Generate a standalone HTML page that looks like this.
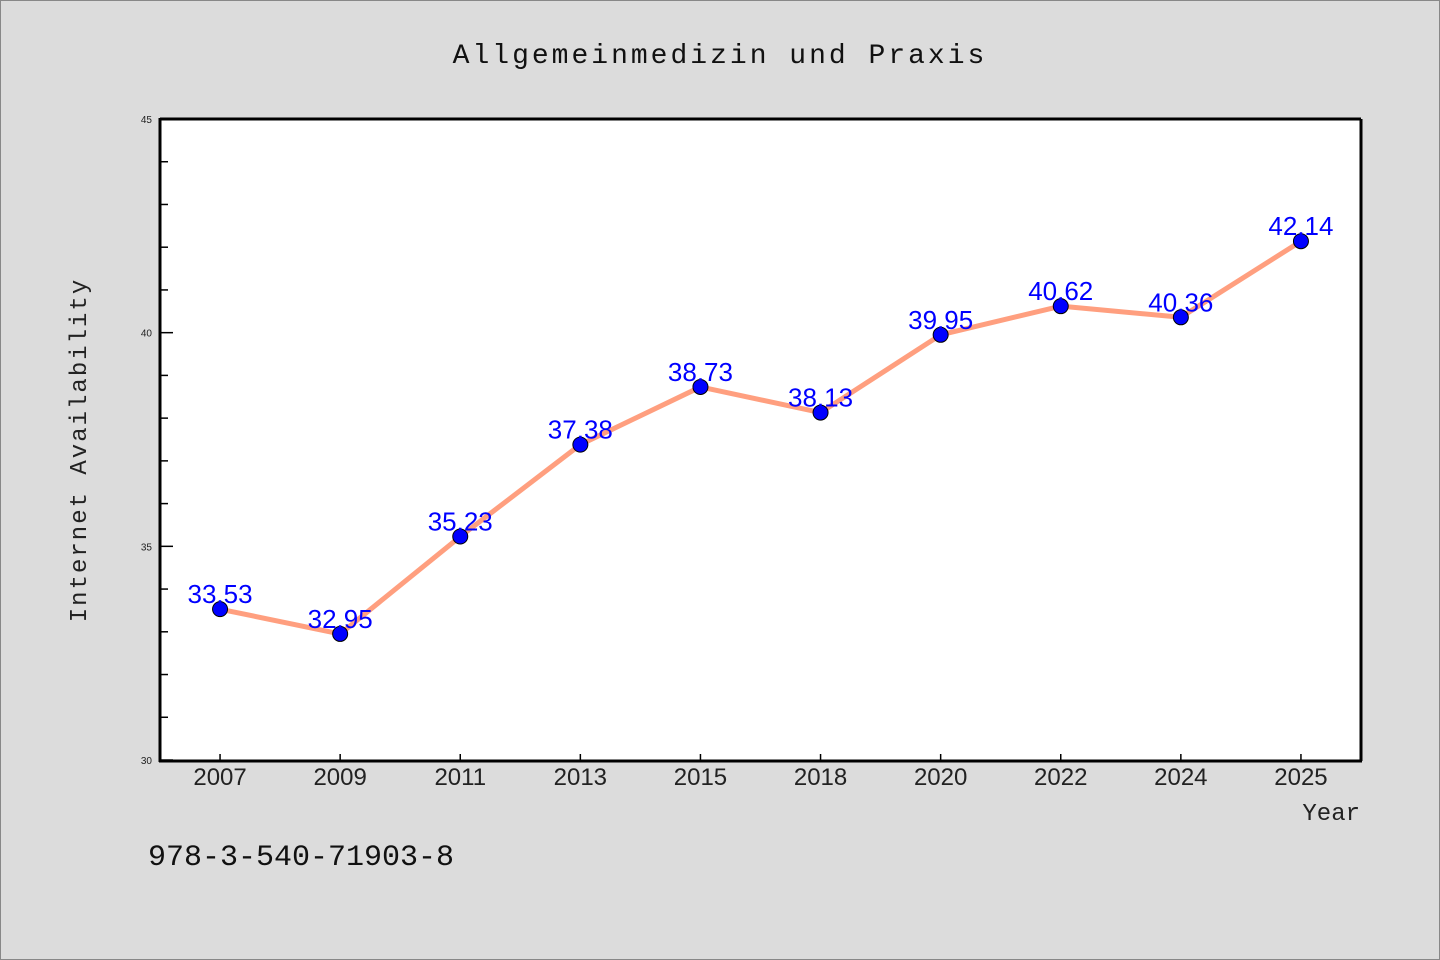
<!DOCTYPE html>
<html><head><meta charset="utf-8"><style>
html,body{margin:0;padding:0;background:#dcdcdc;}
svg{display:block;font-family:"Liberation Sans","Noto Sans CJK SC",sans-serif;}
</style></head><body>
<svg id="chart" width="1440" height="960">
<rect x="0.5" y="0.5" width="1439" height="959" fill="#dcdcdc" stroke="#888"/>
<text x="720" y="63" text-anchor="middle" font-size="28" letter-spacing="3" fill="#111" font-family="Liberation Mono, monospace">Allgemeinmedizin und Praxis</text>
<rect x="160" y="119" width="1201" height="641" fill="#fff"/>
<g id="ticks"></g>
<g id="series"></g>
<line x1="160" y1="119" x2="1361" y2="119" stroke="#000" stroke-width="3"/>
<line x1="1361" y1="119" x2="1361" y2="761" stroke="#000" stroke-width="3"/>
<line x1="160" y1="118" x2="160" y2="762" stroke="#000" stroke-width="3"/>
<line x1="159" y1="761" x2="1362" y2="761" stroke="#000" stroke-width="3"/>
<text x="86" y="450" transform="rotate(-90 86 450)" text-anchor="middle" font-size="24" letter-spacing="2" fill="#222" font-family="Liberation Mono, monospace">Internet Availability</text>
<text x="1360" y="820" text-anchor="end" font-size="24" fill="#222" font-family="Liberation Mono, monospace">Year</text>
<text x="148" y="865" font-size="30" fill="#111" font-family="Liberation Mono, monospace">978-3-540-71903-8</text>
</svg>
<script>
const categories=["2007","2009","2011","2013","2015","2018","2020","2022","2024","2025"];
const values=[33.53,32.95,35.23,37.38,38.73,38.13,39.95,40.62,40.36,42.14];
const valueLabels=["33.53","32.95","35.23","37.38","38.73","38.13","39.95","40.62","40.36","42.14"];
const yTicks=[30,35,40,45];
const yMin=30,yMax=45;
const L=160,R=1361,T=119,B=760;
const NS="http://www.w3.org/2000/svg";
function xs(i){return L+(R-L)/categories.length*(i+0.5);}
function ys(v){return B-(v-yMin)/(yMax-yMin)*(B-T);}
function mk(tag,attrs,parent){const e=document.createElementNS(NS,tag);for(const k in attrs)e.setAttribute(k,attrs[k]);parent.appendChild(e);return e;}
const tg=document.getElementById('ticks');
for(let v=yMin;v<=yMax;v++){
  const major=yTicks.includes(v);
  const t=mk('line',{x1:L,x2:L+(major?13:8),y1:ys(v),y2:ys(v),stroke:'#000','stroke-width':1.5},tg);
  
  
}
yTicks.forEach(v=>{
  const t=mk('text',{x:152,y:ys(v)+4,'text-anchor':'end','font-size':10,fill:'#222'},tg);
  t.textContent=v;
  
  
});
categories.forEach((c,i)=>{
  const t=mk('line',{x1:xs(i),x2:xs(i),y1:B,y2:B-6,stroke:'#000','stroke-width':1.5},tg);
  
  
  const l=mk('text',{x:xs(i),y:785,'text-anchor':'middle','font-size':24,fill:'#222'},tg);
  l.textContent=c;
  
  
});
const sg=document.getElementById('series');
const pts=values.map((v,i)=>xs(i)+','+ys(v)).join(' ');
const line=mk('polyline',{points:pts,fill:'none',stroke:'#ff9f7f','stroke-width':5,'stroke-linejoin':'round'},sg);


values.forEach((v,i)=>{
  const c=mk('circle',{cx:xs(i),cy:ys(v),r:7.5,fill:'#0000ff',stroke:'#000','stroke-width':1},sg);
  
  
});
values.forEach((v,i)=>{
  const t=mk('text',{x:xs(i),y:ys(v)-6,'text-anchor':'middle','font-size':26,fill:'#0000ff'},sg);
  t.textContent=valueLabels[i];
  
  
});
</script>
</body></html>
